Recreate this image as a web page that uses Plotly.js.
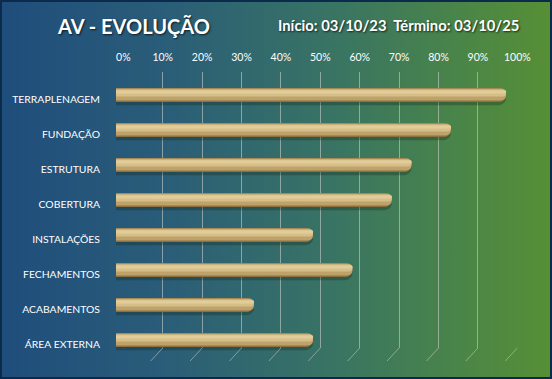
<!DOCTYPE html>
<html>
<head>
<meta charset="utf-8">
<script src="https://cdn.plot.ly/plotly-3.0.1.min.js"></script>
<style>
  html, body { margin: 0; padding: 0; }
  #wrap { position: relative; width: 552px; height: 379px; overflow: hidden;
    background: linear-gradient(to right, #1f4d7c 0%, #2a5d78 30%, #3a7562 62%, #4b8646 85%, #578f35 100%); }
  #chart { position: absolute; left: 0; top: 0; width: 552px; height: 379px; }
  #frame { position: absolute; left: 0; top: 0; width: 552px; height: 379px; box-sizing: border-box;
    border: 2px solid #0c2a4c; pointer-events: none; }
</style>
</head>
<body>
<div id="wrap"><div id="chart"></div><div id="frame"></div></div>
<script>
// ---- data ----
const categories = ['TERRAPLENAGEM', 'FUNDAÇÃO', 'ESTRUTURA', 'COBERTURA', 'INSTALAÇÕES', 'FECHAMENTOS', 'ACABAMENTOS', 'ÁREA EXTERNA'];
const progress = [99, 85, 75, 70, 50, 60, 35, 50];
const gridTicks = [0, 10, 20, 30, 40, 50, 60, 70, 80, 90, 100];
const titleText = 'AV - EVOLUÇÃO';
const infoText = 'Início: 03/10/23\u00A0\u00A0Término: 03/10/25';

const W = 552, H = 379;
const labelFont = { family: 'Lato, "Open Sans", sans-serif', size: 10.4, color: '#ffffff' };

function layer(width, offset, color, radius) {
  return {
    type: 'bar', orientation: 'h', x: progress, y: categories,
    xaxis: 'x2', yaxis: 'y2', width: width, offset: offset,
    marker: { color: color, line: { width: 0 }, cornerradius: radius },
    hoverinfo: 'skip', showlegend: false
  };
}

const traces = [
  // invisible trace to hold grid axes
  { type: 'scatter', x: [0, 100], y: [0, 1], mode: 'markers', marker: { opacity: 0 },
    xaxis: 'x', yaxis: 'y', hoverinfo: 'skip', showlegend: false },
  layer(0.44, -0.15, 'rgba(15,35,20,0.30)', 7),
  layer(0.40, -0.20, '#8e7140', 7),
  layer(0.34, -0.185, '#bea26a', 6),
  layer(0.20, -0.16, '#d6be88', 4),
  layer(0.09, -0.13, '#e2cd9a', 2)
];

// floor strokes at bottom of grid lines
const dxUnits = 12 / 3.94;
const shapes = gridTicks.map(t => ({
  type: 'line', xref: 'x', yref: 'paper',
  x0: t, y0: (H - 348) / H, x1: t - dxUnits, y1: (H - 361) / H,
  line: { color: 'rgba(200,205,200,0.55)', width: 1 }
}));

const layout = {
  width: W, height: H,
  margin: { l: 0, r: 0, t: 0, b: 0, pad: 0 },
  paper_bgcolor: 'rgba(0,0,0,0)', plot_bgcolor: 'rgba(0,0,0,0)',
  barmode: 'overlay',
  showlegend: false,
  title: {
    text: titleText, x: 58 / W, xanchor: 'left', xref: 'paper',
    y: 1 - 27 / H, yanchor: 'middle', yref: 'paper',
    font: { family: 'Lato, "Open Sans", sans-serif', size: 20, weight: 'bold', color: '#ffffff',
            shadow: '1px 1px 2px rgba(0,0,0,0.7)' }
  },
  annotations: [{
    text: infoText, xref: 'paper', yref: 'paper', x: 521 / W, xanchor: 'right',
    y: 1 - 25 / H, yanchor: 'middle', showarrow: false,
    font: { family: 'Lato, "Open Sans", sans-serif', size: 14.8, weight: 'bold', color: '#ffffff',
            shadow: '1px 1px 2px rgba(0,0,0,0.7)' }
  }],
  shapes: shapes,
  xaxis: {
    domain: [123.3 / W, 517.3 / W], range: [0, 100], anchor: 'y', side: 'top',
    tickmode: 'array', tickvals: gridTicks, ticktext: gridTicks.map(v => v + '%'),
    showgrid: true, gridcolor: 'rgba(200,205,200,0.6)', gridwidth: 1,
    zeroline: false, showline: false, ticks: '', ticklabelstandoff: 8,
    tickfont: { family: 'Lato, "Open Sans", sans-serif', size: 10.5, color: '#ffffff' },
    fixedrange: true
  },
  yaxis: {
    domain: [(H - 348) / H, (H - 72) / H], range: [0, 1], anchor: 'x',
    showgrid: false, zeroline: false, showline: false, showticklabels: false, ticks: '',
    fixedrange: true
  },
  xaxis2: {
    domain: [116 / W, 510 / W], range: [0, 100], anchor: 'y2',
    visible: false, fixedrange: true
  },
  yaxis2: {
    domain: [(H - 357.5) / H, (H - 77.5) / H], anchor: 'x2',
    type: 'category', categoryorder: 'array', categoryarray: categories,
    autorange: 'reversed',
    showgrid: false, zeroline: false, showline: false, ticks: '',
    ticklabelstandoff: 15, ticklabelshift: -4,
    tickfont: labelFont, fixedrange: true
  }
};

Plotly.newPlot('chart', traces, layout, { displayModeBar: false, staticPlot: true });
</script>
</body>
</html>
